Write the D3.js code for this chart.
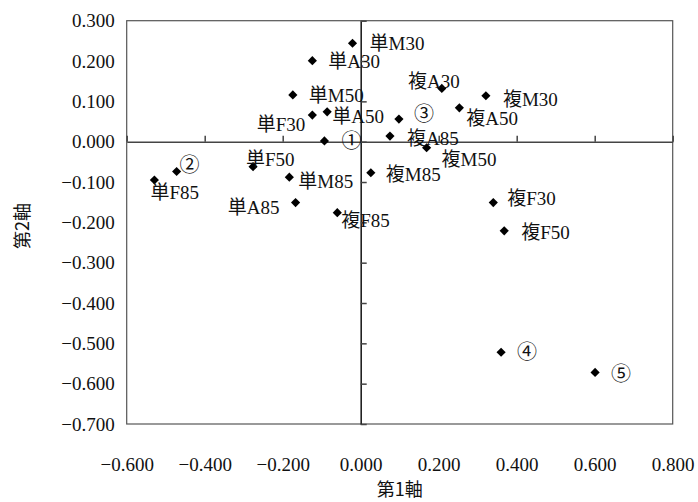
<!DOCTYPE html>
<html>
<head>
<meta charset="utf-8">
<script src="https://cdn.jsdelivr.net/npm/d3@7"></script>
<style>
  html, body { margin: 0; padding: 0; background: #fff; }
  svg { display: block; }
  text { fill: #111; }
</style>
</head>
<body>
<svg id="chart" width="698" height="502"></svg>
<script>
// ---- data ----
const labels = ["単M30","単A30","単M50","単F30","単A50","①","②","単F85","単F50","単M85","単A85",
                "複F85","複M85","複A30","複M30","複A50","③","複A85","複M50","複F30","複F50","④","⑤"];
const axis1 = [-0.021,-0.124,-0.174,-0.124,-0.086,-0.093,-0.472,-0.529,-0.276,-0.183,-0.167,
               -0.060, 0.026, 0.208, 0.321, 0.253, 0.098, 0.075, 0.169, 0.340, 0.368, 0.360, 0.601];
const axis2 = [ 0.244, 0.201, 0.116, 0.066, 0.074, 0.002,-0.074,-0.095,-0.062,-0.088,-0.151,
               -0.176,-0.077, 0.132, 0.114, 0.084, 0.056, 0.014,-0.015,-0.151,-0.221,-0.522,-0.572];
const xTicks = [-0.6,-0.4,-0.2,0,0.2,0.4,0.6,0.8];
const yTicks = [0.3,0.2,0.1,0,-0.1,-0.2,-0.3,-0.4,-0.5,-0.6,-0.7];
const xTitle = "第1軸";
const yTitle = "第2軸";

// ---- label layout (pixel offsets from the marker: dx, dy, anchor) ----
const labelLayout = [
  [17,0,"start"],[16,1,"start"],[16,0,"start"],[-7,9,"end"],[5,4,"start"],[27,0,"middle"],
  [13,-7,"middle"],[-4,12,"start"],[-7,-8,"start"],[9,4,"start"],[-16,5,"end"],
  [4,7,"start"],[15,1,"start"],[18,-7,"end"],[17,3,"start"],[7,10,"start"],[25,-5,"middle"],
  [17,2,"start"],[15,11,"start"],[14,-4,"start"],[17,1,"start"],[26,0,"middle"],[26,1,"middle"]
];

const points = labels.map((l, i) => ({label: l, x: axis1[i], y: axis2[i], lay: labelLayout[i]}));

const svg = d3.select("#chart");
const L = 126.7, R = 672.7, T = 20.7, B = 424;
const x = d3.scaleLinear().domain([-0.6, 0.8]).range([L, R]);
const y = d3.scaleLinear().domain([-0.7, 0.3]).range([B, T]);
const fmt = d3.format(".3f");
const latin = "'Liberation Serif', 'Noto Sans CJK JP', serif";

// frame
svg.append("rect")
  .attr("x", L).attr("y", T).attr("width", R - L).attr("height", B - T)
  .attr("fill", "none").attr("stroke", "#555").attr("stroke-width", 1.2);

// tick labels (outside)
const gx = svg.append("g").attr("transform", `translate(0,${B})`)
  .call(d3.axisBottom(x).tickValues(xTicks).tickFormat(fmt).tickSize(0).tickPadding(34));
gx.select(".domain").remove();
gx.selectAll("text").attr("font-family", latin).attr("font-size", 19).attr("fill", "#111");

const gy = svg.append("g").attr("transform", `translate(${L},0)`)
  .call(d3.axisLeft(y).tickValues(yTicks).tickFormat(fmt).tickSize(0).tickPadding(12));
gy.select(".domain").remove();
gy.selectAll("text").attr("font-family", latin).attr("font-size", 19).attr("fill", "#111");

// zero axes with inner ticks
const zx = svg.append("g").attr("transform", `translate(0,${y(0)})`)
  .call(d3.axisTop(x).tickValues(xTicks).tickFormat("").tickSize(6).tickSizeOuter(0));
zx.select(".domain").attr("stroke", "#444").attr("stroke-width", 1.5);
zx.selectAll(".tick line").attr("stroke", "#444").attr("stroke-width", 1.5);

const zy = svg.append("g").attr("transform", `translate(${x(0)},0)`)
  .call(d3.axisRight(y).tickValues(yTicks).tickFormat("").tickSize(6).tickSizeOuter(0));
zy.select(".domain").attr("stroke", "#222").attr("stroke-width", 1.6);
zy.selectAll(".tick line").attr("stroke", "#444").attr("stroke-width", 1.5);

// markers
const diamond = d3.symbol().type(d3.symbolSquare).size(42);
svg.append("g").selectAll("path").data(points).join("path")
  .attr("d", diamond)
  .attr("transform", d => `translate(${x(d.x)},${y(d.y)}) rotate(45)`)
  .attr("fill", "#000");

// labels
svg.append("g").selectAll("text").data(points).join("text")
  .attr("x", d => x(d.x) + d.lay[0])
  .attr("y", d => y(d.y) + d.lay[1])
  .attr("dy", "0.36em")
  .attr("text-anchor", d => d.lay[2])
  .attr("font-family", latin)
  .attr("font-size", d => /[①-⑤]/.test(d.label) ? 20 : 19)
  .text(d => d.label);

// axis titles
svg.append("text")
  .attr("x", (L + R) / 2).attr("y", 490)
  .attr("dy", "0.35em").attr("text-anchor", "middle")
  .attr("font-family", "'Noto Sans CJK JP', sans-serif").attr("font-size", 18)
  .text(xTitle);
svg.append("text")
  .attr("transform", "translate(23,226) rotate(-90)")
  .attr("dy", "0.35em").attr("text-anchor", "middle")
  .attr("font-family", "'Noto Sans CJK JP', sans-serif").attr("font-size", 18)
  .text(yTitle);
</script>
</body>
</html>
